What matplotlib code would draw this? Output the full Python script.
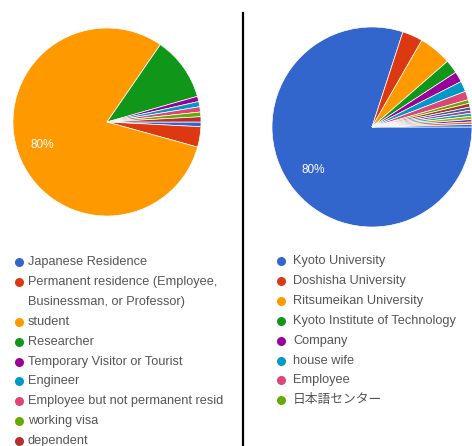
import matplotlib.pyplot as plt
from matplotlib.lines import Line2D

# google chart default palette
PALETTE = ["#3366cc", "#dc3912", "#ff9900", "#109618", "#990099", "#0099c6",
           "#dd4477", "#66aa00", "#b82e2e", "#316395", "#994499", "#22aa99",
           "#aaaa11", "#6633cc", "#e67300"]

# left chart: visa / residence status
status_labels = ["Japanese Residence",
                 "Permanent residence (Employee,\nBusinessman, or Professor)",
                 "student", "Researcher", "Temporary Visitor or Tourist",
                 "Engineer", "Employee but not permanent resid",
                 "working visa", "dependent"]
status_share = [0.8, 3.5, 80.3, 11.0, 0.9, 0.9, 0.9, 0.8, 0.9]

# right chart: affiliation
affil_labels = ["Kyoto University", "Doshisha University",
                "Ritsumeikan University", "Kyoto Institute of Technology",
                "Company", "house wife", "Employee", "日本語センター"]
affil_share = [80.0, 3.3, 5.3, 2.2, 1.7, 1.7, 1.4, 0.6]
# further tiny slices whose legend rows are cut off in the original
affil_more = [0.6, 0.5, 0.5, 0.5, 0.5, 0.4, 0.4, 0.4]

FONT = ["Liberation Sans", "Noto Sans CJK JP", "DejaVu Sans"]
W, H = 472, 446

fig = plt.figure(figsize=(W / 100, H / 100), dpi=100)
fig.patch.set_facecolor("white")


def pie_axes(cx, cy, r):
    return fig.add_axes([(cx - r) / W, 1 - (cy + r) / H, 2 * r / W, 2 * r / H])


def big_pct(p):
    return f"{p:.0f}%" if p > 50 else ""


def draw_pie(ax, values):
    ax.pie(values, colors=PALETTE[:len(values)], startangle=0,
           counterclock=False, radius=1, autopct=big_pct, pctdistance=0.73,
           wedgeprops=dict(edgecolor="white", linewidth=0.5),
           textprops=dict(color="white", fontsize=8.5, family=FONT))
    # pie() pads the limits, take them back to the radius
    ax.set_xlim(-1, 1)
    ax.set_ylim(-1, 1)
    ax.axis("off")


ax_l = pie_axes(107, 122, 94)
draw_pie(ax_l, status_share)

ax_r = pie_axes(372, 127, 100)
draw_pie(ax_r, affil_share + affil_more)

# overlay in pixel coordinates for legends and the divider
ov = fig.add_axes([0, 0, 1, 1])
ov.set_xlim(0, W)
ov.set_ylim(H, 0)
ov.axis("off")
ov.add_line(Line2D([242.5, 242.5], [13, H], color="black", lw=1.6))


def legend(labels, mx, tx, y0, step=19.9):
    k = 0
    for i, lab in enumerate(labels):
        y = y0 + step * k
        ov.plot(mx, y, "o", ms=6.5, color=PALETTE[i], mec="none")
        lines = lab.split("\n")
        for j, line in enumerate(lines):
            ov.text(tx, y + step * j, line, fontsize=9.2, color="#555555",
                    family=FONT, va="center", ha="left")
        k += len(lines)


legend(status_labels, 19, 28, 262)
legend(affil_labels, 281, 293, 261)

fig.savefig("out.png", dpi=100, facecolor="white")
